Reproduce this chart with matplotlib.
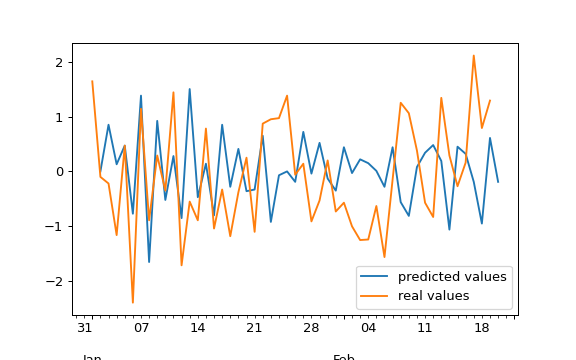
import numpy as np
import pandas as pd
import matplotlib
matplotlib.use('Agg')
import matplotlib.pyplot as plt

# daily values; predictions lag the real values by one day
real_start = '2019-01-01'
pred_start = '2019-01-02'

real_values = [1.64, -0.10, -0.22, -1.16, 0.47, -2.39, 1.14, -0.89, 0.29, -0.35,
               1.44, -1.71, -0.55, -0.89, 0.78, -1.04, -0.33, -1.18, -0.38, 0.25,
               -1.10, 0.87, 0.95, 0.97, 1.38, -0.06, 0.14, -0.91, -0.53, 0.20,
               -0.73, -0.57, -1.00, -1.25, -1.24, -0.63, -1.56, -0.15, 1.25, 1.06,
               0.38, -0.57, -0.83, 1.34, 0.29, -0.27, 0.16, 2.11, 0.79, 1.29]

predicted_values = [0.00, 0.85, 0.13, 0.47, -0.77, 1.38, -1.65, 0.92, -0.52, 0.28,
                    -0.85, 1.50, -0.47, 0.14, -0.80, 0.85, -0.28, 0.41, -0.36, -0.33,
                    0.65, -0.92, -0.07, 0.00, -0.19, 0.72, -0.04, 0.52, -0.13, -0.35,
                    0.44, -0.03, 0.22, 0.15, 0.01, -0.28, 0.44, -0.56, -0.81, 0.08,
                    0.34, 0.48, 0.19, -1.06, 0.45, 0.32, -0.19, -0.95, 0.61, -0.19]

plt.rcParams['font.size'] = 10.4

real = pd.Series(real_values,
                 index=pd.date_range(real_start, periods=len(real_values), freq='D'))
pred = pd.Series(predicted_values,
                 index=pd.date_range(pred_start, periods=len(predicted_values), freq='D'))

df = pd.DataFrame({'predicted values': pred, 'real values': real}).asfreq('D')

fig, ax = plt.subplots(figsize=(6.4, 4), dpi=90)
fig.subplots_adjust(bottom=0.125)
df.plot(ax=ax)

# pandas pins the x limits to the data; give it the usual 5% margins
left, right = ax.get_xlim()
pad = (right - left) * 0.05
ax.set_xlim(left - pad, right + pad)

ax.legend(loc='lower right')

fig.savefig('out.png', dpi=90)
